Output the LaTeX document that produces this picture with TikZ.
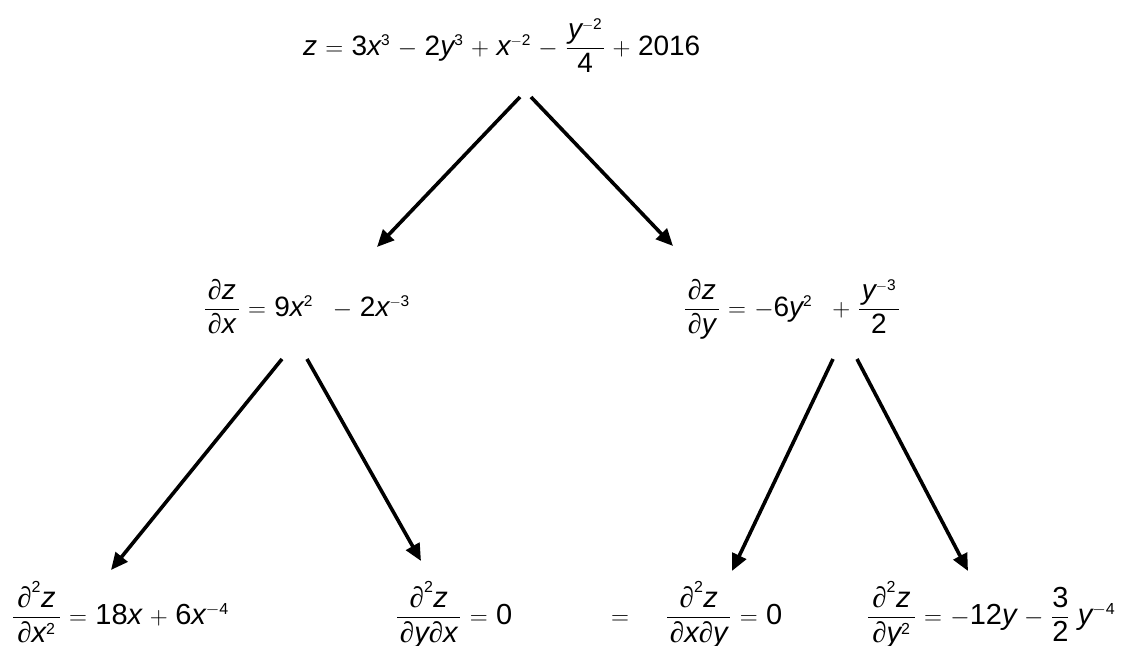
\documentclass[tikz,border=0pt]{standalone}
\usepackage{amsmath}
\usepackage{fontspec}
\setmainfont{Liberation Sans}
\newfontfamily\symf{Liberation Serif}
\usetikzlibrary{arrows.meta}
\DeclareMathSizes{28}{28}{15.5}{12}
\DeclareMathSizes{29}{29}{16}{12}
\medmuskip=5.5mu plus 2mu minus 2mu
\thickmuskip=6mu plus 2mu
\newcommand\vx{\mathit{x}}
\newcommand\vy{\mathit{y}}
\newcommand\vz{\mathit{z}}
\newcommand\nm[1]{\mathrm{#1}}
\newcommand\pd{\text{\symf ∂}}
\newcommand\pfr[3]{\dfrac{\mkern#1mu{}#2{}\mkern#1mu}{\mkern#1mu{}#3{}\mkern#1mu}}
\begin{document}
\begin{tikzpicture}[x=1pt,y=-1pt,
  eq/.style={anchor=base west,inner sep=0pt,outer sep=0pt,font=\fontsize{28}{32}\selectfont},
  eqb/.style={eq,font=\fontsize{29}{33}\selectfont},
  arr/.style={line width=3.6pt,-{Triangle[length=17pt,width=15pt]}}]
\useasboundingbox (0,0) rectangle (1132,645);
\node[eq] (top) at (303,55) {$\vz = \nm{3}\vx^{\nm{3}} - \nm{2}\vy^{\nm{3}} + \vx^{-\nm{2}} - \pfr{1}{\vy^{-\nm{2}}}{\nm{4}} + \nm{2016}$};
\node[eq] (dx) at (204,316) {$\pfr{2}{\pd \vz}{\pd \vx} = \nm{9}\vx^{\nm{2}}\;\, - \nm{2}\vx^{-\nm{3}}$};
\node[eq] (dy) at (684,316) {$\pfr{2}{\pd \vz}{\pd \vy} = -\nm{6}\vy^{\nm{2}}\;\, + \pfr{2}{\vy^{-\nm{3}}}{\nm{2}}$};
\node[eqb] (dxx) at (12,624) {$\pfr{3}{\pd^{\nm{2}} \vz}{\pd \vx^{\nm{2}}} = \nm{18}\vx + \nm{6}\vx^{-\nm{4}}$};
\node[eqb] (dyx) at (396,624) {$\pfr{2}{\pd^{\nm{2}} \vz}{\pd \vy\pd \vx} = \nm{0}$};
\node[eqb] (eqs) at (611,624) {$=$};
\node[eqb] (dxy) at (666,624) {$\pfr{2}{\pd^{\nm{2}} \vz}{\pd \vx\pd \vy} = \nm{0}$};
\node[eqb] (dyy) at (867,624) {$\pfr{3}{\pd^{\nm{2}} \vz}{\pd \vy^{\nm{2}}} = -\nm{12}\vy - \dfrac{\nm{3}}{\nm{2}}\;\vy^{-\nm{4}}$};
\coordinate (s1) at (520,97);  \coordinate (e1) at (377,247);
\coordinate (s2) at (531,97);  \coordinate (e2) at (673,246);
\coordinate (s3) at (282,359); \coordinate (e3) at (111,570);
\coordinate (s4) at (307,359); \coordinate (e4) at (421,561);
\coordinate (s5) at (833,359); \coordinate (e5) at (732,571);
\coordinate (s6) at (857,359); \coordinate (e6) at (968,571);
\draw[arr] (s1) -- (e1);
\draw[arr] (s2) -- (e2);
\draw[arr] (s3) -- (e3);
\draw[arr] (s4) -- (e4);
\draw[arr] (s5) -- (e5);
\draw[arr] (s6) -- (e6);
\end{tikzpicture}
\end{document}
